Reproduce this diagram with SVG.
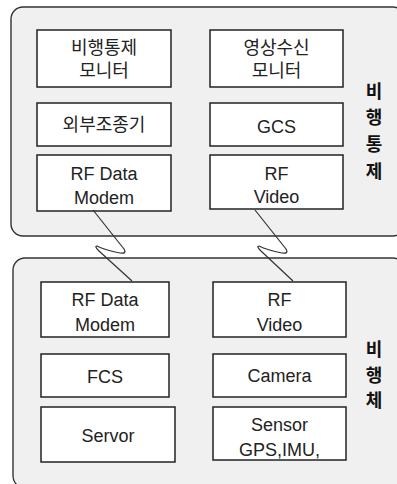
<svg xmlns="http://www.w3.org/2000/svg" width="397" height="484" viewBox="0 0 397 484">
<style>
.container{fill:#f0f0f0;stroke:#333;stroke-width:1.4}
.box{fill:#fff;stroke:#222;stroke-width:1.5}
.t{font-family:"Liberation Sans","Noto Sans CJK KR",sans-serif;font-size:18px;fill:#222;text-anchor:middle}
.side{font-family:"Noto Sans CJK KR",sans-serif;font-size:18px;font-weight:bold;fill:#111;text-anchor:middle}
.conn{fill:none;stroke:#333;stroke-width:1.2}
</style>
<rect width="397" height="484" fill="#fff"/>
<g id="ground">
<rect class="container" x="11" y="7" width="394" height="229" rx="12"/>
<text class="side" x="374" y="98">비</text>
<text class="side" x="374" y="124">행</text>
<text class="side" x="374" y="151">통</text>
<text class="side" x="374" y="178">제</text>
</g>
<g id="air">
<rect class="container" x="13" y="258" width="392" height="230" rx="12"/>
<text class="side" x="374" y="356">비</text>
<text class="side" x="374" y="382">행</text>
<text class="side" x="374" y="407">체</text>
</g>
<g id="fc-monitor"><rect class="box" x="37" y="30" width="134" height="57"/><text class="t" x="104" y="54">비행통제</text><text class="t" x="104" y="77">모니터</text></g>
<g id="video-monitor"><rect class="box" x="210" y="30" width="133" height="57"/><text class="t" x="276.5" y="54">영상수신</text><text class="t" x="276.5" y="77">모니터</text></g>
<g id="ext-ctrl"><rect class="box" x="37" y="103" width="134" height="43"/><text class="t" x="104" y="131">외부조종기</text></g>
<g id="gcs"><rect class="box" x="210" y="103" width="133" height="43"/><text class="t" x="276.5" y="133">GCS</text></g>
<g id="rf-data-g"><rect class="box" x="37" y="155" width="134" height="56"/><text class="t" x="104" y="180">RF Data</text><text class="t" x="104" y="204">Modem</text></g>
<g id="rf-video-g"><rect class="box" x="210" y="155" width="133" height="54"/><text class="t" x="276.5" y="180">RF</text><text class="t" x="276.5" y="203">Video</text></g>
<g id="rf-data-a"><rect class="box" x="41" y="282" width="128" height="55"/><text class="t" x="105" y="306">RF Data</text><text class="t" x="105" y="331">Modem</text></g>
<g id="rf-video-a"><rect class="box" x="213" y="282" width="133" height="55"/><text class="t" x="279.5" y="306">RF</text><text class="t" x="279.5" y="331">Video</text></g>
<g id="fcs"><rect class="box" x="41" y="354" width="128" height="43"/><text class="t" x="105" y="383">FCS</text></g>
<g id="camera"><rect class="box" x="213" y="354" width="133" height="43"/><text class="t" x="279.5" y="382">Camera</text></g>
<g id="servor"><rect class="box" x="41" y="407" width="134" height="55"/><text class="t" x="108" y="442">Servor</text></g>
<g id="sensor"><rect class="box" x="213" y="407" width="133" height="53"/><text class="t" x="279.5" y="431">Sensor</text><text class="t" x="279.5" y="456">GPS,IMU,</text></g>
<g id="connectors">
<path class="conn" d="M93,210 L124,249 Q127,254 120,253 Q105,250 97,246 Q94,246 99,251 L132,281"/>
<path class="conn" d="M255,210 L286,249 Q289,254 282,253 Q267,250 259,246 Q256,246 261,251 L293,281"/>
</g>
</svg>
